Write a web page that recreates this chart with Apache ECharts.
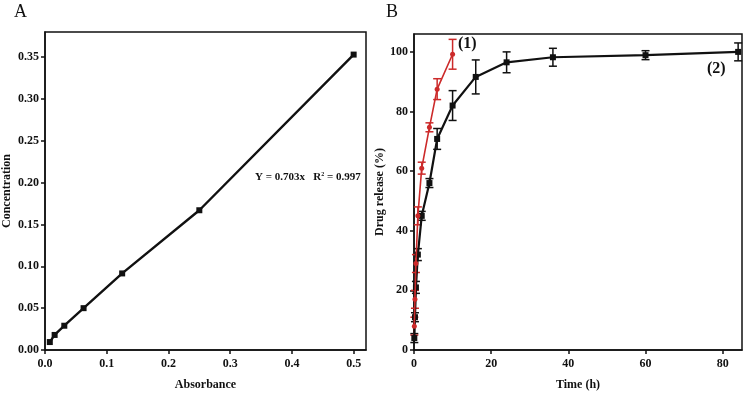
<!DOCTYPE html>
<html><head><meta charset="utf-8">
<script src="https://cdn.jsdelivr.net/npm/echarts@6/dist/echarts.min.js"></script>
<style>html,body{margin:0;padding:0;background:#fff}#c{width:749px;height:400px}</style>
</head><body><div id="c"></div>
<script>
// Panel A: calibration
const absorbance = [0.0078, 0.0156, 0.03125, 0.0625, 0.125, 0.25, 0.5];
const concentration = [0.0095, 0.018, 0.029, 0.05, 0.0915, 0.167, 0.353];
const aXTicks = [0, 0.1, 0.2, 0.3, 0.4, 0.5];
const aYTicks = [0, 0.05, 0.10, 0.15, 0.20, 0.25, 0.30, 0.35];
// Panel B: release
const timeB2 = [0.083, 0.25, 0.5, 1, 2, 4, 6, 10, 16, 24, 36, 60, 84];
const release2 = [4, 11, 21, 32, 45, 56, 70.8, 82, 91.6, 96.5, 98.2, 98.9, 100];
const err2 = [1.5, 1.5, 2, 2, 1.5, 1.5, 3.5, 5, 5.7, 3.5, 3, 1.5, 3];
const timeB1 = [0.083, 0.25, 0.5, 1, 2, 4, 6, 10];
const release1 = [8, 17, 29, 45, 61, 74.7, 87.5, 99.2];
const err1 = [3, 3, 3, 3, 2, 1.5, 3.5, 5];
const bXTicks = [0, 20, 40, 60, 80];
const bYTicks = [0, 20, 40, 60, 80, 100];

const FONT = 'Liberation Serif';
const lblStyle = {fontFamily: FONT, fontWeight: 'bold', fontSize: 12, color: '#111'};
const nameStyle = {fontFamily: FONT, fontWeight: 'bold', fontSize: 12, color: '#111'};
const axisLine = {show: true, lineStyle: {color: '#111', width: 1.5}};
const axisTick = {show: true, inside: false, length: 4, lineStyle: {color: '#111', width: 1.5}};

function errSeries(xi, yi, t, v, e, color) {
  return {
    type: 'custom', xAxisIndex: xi, yAxisIndex: yi, z: 3,
    data: t.map((x, i) => [x, v[i] - e[i], v[i] + e[i]]),
    renderItem: function (params, api) {
      const lo = api.coord([api.value(0), api.value(1)]);
      const hi = api.coord([api.value(0), api.value(2)]);
      const w = 4;
      const st = {stroke: color, lineWidth: 1.5};
      return {type: 'group', children: [
        {type: 'line', shape: {x1: lo[0], y1: lo[1], x2: hi[0], y2: hi[1]}, style: st},
        {type: 'line', shape: {x1: lo[0] - w, y1: lo[1], x2: lo[0] + w, y2: lo[1]}, style: st},
        {type: 'line', shape: {x1: hi[0] - w, y1: hi[1], x2: hi[0] + w, y2: hi[1]}, style: st}
      ]};
    }
  };
}

const chart = echarts.init(document.getElementById('c'), null, {renderer: 'canvas'});
chart.setOption({
  animation: false,
  backgroundColor: '#fff',
  grid: [
    {left: 45, top: 32, right: 383, bottom: 50, show: true, borderColor: '#111', borderWidth: 1.5, containLabel: false},
    {left: 414, top: 34, right: 7, bottom: 50, show: true, borderColor: '#111', borderWidth: 1.5, containLabel: false}
  ],
  xAxis: [
    {type: 'value', gridIndex: 0, min: 0, max: 0.52, name: 'Absorbance', nameLocation: 'middle', nameGap: 29,
     nameTextStyle: nameStyle, axisLine: axisLine, splitLine: {show: false},
     axisTick: Object.assign({customValues: aXTicks}, axisTick),
     axisLabel: Object.assign({customValues: aXTicks, margin: 8, formatter: v => v.toFixed(1)}, lblStyle)},
    {type: 'value', gridIndex: 1, min: 0, max: 85, name: 'Time (h)', nameLocation: 'middle', nameGap: 29,
     nameTextStyle: nameStyle, axisLine: axisLine, splitLine: {show: false},
     axisTick: Object.assign({customValues: bXTicks}, axisTick),
     axisLabel: Object.assign({customValues: bXTicks, margin: 8, formatter: v => String(v)}, lblStyle)}
  ],
  yAxis: [
    {type: 'value', gridIndex: 0, min: 0, max: 0.38, name: 'Concentration', nameLocation: 'middle', nameGap: 32,
     nameTextStyle: nameStyle, axisLine: axisLine, splitLine: {show: false},
     axisTick: Object.assign({customValues: aYTicks}, axisTick),
     axisLabel: Object.assign({customValues: aYTicks, margin: 6, formatter: v => v.toFixed(2)}, lblStyle)},
    {type: 'value', gridIndex: 1, min: 0, max: 106, name: 'Drug release (%)', nameLocation: 'middle', nameGap: 28,
     nameTextStyle: nameStyle, axisLine: axisLine, splitLine: {show: false},
     axisTick: Object.assign({customValues: bYTicks}, axisTick),
     axisLabel: Object.assign({customValues: bYTicks, margin: 6, formatter: v => String(v)}, lblStyle)}
  ],
  series: [
    {type: 'line', xAxisIndex: 0, yAxisIndex: 0, data: absorbance.map((x, i) => [x, concentration[i]]),
     symbol: 'rect', symbolSize: 6, itemStyle: {color: '#111'}, lineStyle: {color: '#111', width: 2.4}, z: 4},
    errSeries(1, 1, timeB2, release2, err2, '#111'),
    errSeries(1, 1, timeB1, release1, err1, '#cc2a2a'),
    {type: 'line', xAxisIndex: 1, yAxisIndex: 1, data: timeB2.map((x, i) => [x, release2[i]]),
     symbol: 'rect', symbolSize: 6, itemStyle: {color: '#111'}, lineStyle: {color: '#111', width: 2.2}, z: 4},
    {type: 'line', xAxisIndex: 1, yAxisIndex: 1, data: timeB1.map((x, i) => [x, release1[i]]),
     symbol: 'circle', symbolSize: 5, itemStyle: {color: '#cc2a2a'}, lineStyle: {color: '#cc2a2a', width: 1.6}, z: 5}
  ],
  graphic: [
    {type: 'text', left: 14, top: 3, style: {text: 'A', fontFamily: FONT, fontSize: 18, fill: '#111'}},
    {type: 'text', left: 386, top: 3, style: {text: 'B', fontFamily: FONT, fontSize: 18, fill: '#111'}},
    {type: 'text', left: 255, top: 171, style: {
      text: '{t|Y = 0.703x   R}{s|2}{t| = 0.997}',
      rich: {t: {fontFamily: FONT, fontWeight: 'bold', fontSize: 11, fill: '#111'},
             s: {fontFamily: FONT, fontWeight: 'bold', fontSize: 6, verticalAlign: 'top', padding: [0, 0, 6, 0], fill: '#111'}}}},
    {type: 'text', left: 458, top: 36, style: {text: '(1)', fontFamily: FONT, fontWeight: 'bold', fontSize: 16, fill: '#111'}},
    {type: 'text', left: 707, top: 61, style: {text: '(2)', fontFamily: FONT, fontWeight: 'bold', fontSize: 16, fill: '#111'}}
  ]
});
</script></body></html>
